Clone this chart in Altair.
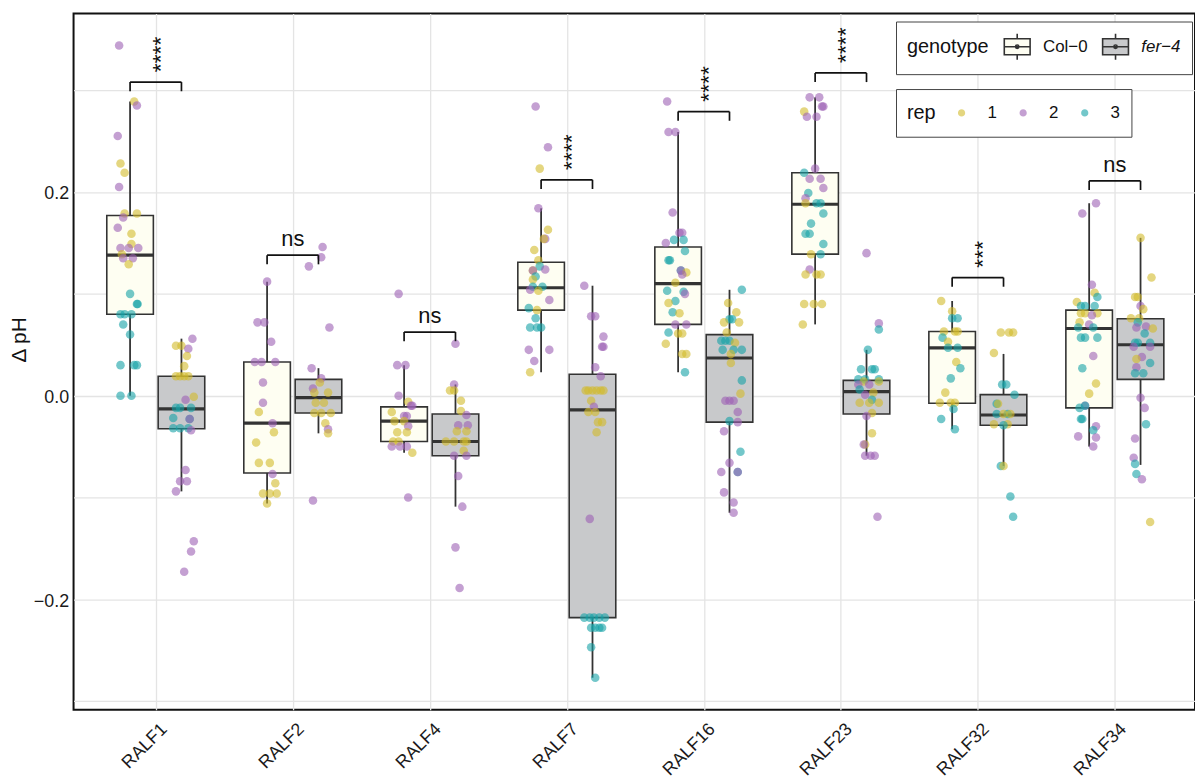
import altair as alt
import pandas as pd

CATEGORIES = ["RALF1", "RALF2", "RALF4", "RALF7", "RALF16", "RALF23", "RALF32", "RALF34"]
GENOTYPES = ["Col\u22120", "fer\u22124"]
REPS = ["1", "2", "3"]
REP_COLORS = ["#D2BA2C", "#9C60B4", "#16A1A7"]
GENO_FILLS = ["#FEFEF2", "#C8C9CB"]

# each point: (delta pH, rep, horizontal jitter in category units)
RALF1_COL = [(0.344,2,-0.08),(0.289,1,0.03),(0.285,2,0.05),(0.255,2,-0.09),(0.228,1,-0.07),(0.219,1,-0.04),
             (0.205,2,-0.08),(0.179,1,-0.04),(0.179,1,0.05),(0.175,2,-0.05),(0.165,2,-0.09),(0.159,1,0.01),
             (0.149,1,0.01),(0.145,2,-0.07),(0.145,2,-0.01),(0.145,2,0.06),(0.139,1,-0.06),(0.135,2,-0.05),
             (0.135,2,0.02),(0.129,1,-0.01),(0.100,3,0.0),(0.090,3,0.05),(0.090,3,0.055),(0.080,3,-0.07),
             (0.080,3,-0.04),(0.080,3,0.01),(0.070,3,-0.05),(0.060,3,0.0),(0.030,3,-0.07),(0.030,3,0.03),
             (0.030,3,0.05),(0.000,3,-0.07),(0.000,3,0.01)]
RALF1_FER = [(0.056,2,0.08),(0.049,1,-0.04),(0.049,1,0.0),(0.046,2,0.05),(0.039,1,0.04),(0.029,1,0.02),
             (0.019,1,-0.04),(0.019,1,-0.01),(0.019,1,0.02),(0.019,1,0.05),(-0.001,1,0.09),(-0.004,2,0.03),
             (-0.012,3,-0.04),(-0.012,3,-0.01),(-0.012,3,0.07),(-0.022,3,-0.06),(-0.023,3,0.06),(-0.023,2,0.06),
             (-0.032,3,-0.06),(-0.032,3,-0.01),(-0.032,3,0.05),(-0.034,2,0.07),(-0.073,2,0.03),(-0.084,2,-0.01),
             (-0.084,2,0.04),(-0.094,2,-0.04),(-0.143,2,0.09),(-0.153,2,0.07),(-0.173,2,0.02)]
RALF2_COL = [(0.112,2,0.0),(0.072,2,-0.07),(0.072,2,-0.02),(0.053,2,0.03),(0.033,2,-0.09),(0.033,2,-0.04),
             (0.033,2,0.06),(0.013,2,-0.03),(-0.007,2,-0.03),(-0.016,1,-0.06),(-0.027,2,0.04),(-0.036,1,0.05),
             (-0.046,1,-0.08),(-0.066,1,-0.06),(-0.066,1,0.02),(-0.077,2,0.04),(-0.086,1,0.06),(-0.096,1,-0.03),
             (-0.096,1,0.02),(-0.096,1,0.07),(-0.106,1,0.0)]
RALF2_FER = [(0.146,2,0.03),(0.136,2,0.02),(0.127,2,-0.07),(0.067,2,0.08),(0.027,2,-0.05),(0.017,2,0.02),
             (0.013,1,0.01),(0.007,2,-0.04),(0.003,1,-0.03),(0.003,1,0.07),(-0.007,1,-0.02),(-0.007,1,0.04),
             (-0.017,1,-0.03),(-0.017,1,0.02),(-0.017,1,0.09),(-0.027,1,0.05),(-0.033,2,0.07),(-0.037,1,0.07),
             (-0.103,2,-0.04)]
RALF4_COL = [(0.100,2,-0.04),(0.030,2,-0.05),(0.030,2,0.01),(0.000,2,-0.04),(-0.006,1,0.03),(-0.010,2,0.05),
             (-0.010,2,0.06),(-0.016,1,-0.09),(-0.020,2,0.0),(-0.020,2,0.02),(-0.025,1,-0.07),(-0.025,1,0.0),
             (-0.030,2,0.03),(-0.036,1,-0.05),(-0.036,1,0.02),(-0.045,1,-0.08),(-0.045,1,-0.04),(-0.050,2,-0.09),
             (-0.050,2,-0.03),(-0.050,2,0.02),(-0.056,1,0.06),(-0.100,2,0.03)]
RALF4_FER = [(0.051,2,0.0),(0.011,2,-0.01),(0.005,1,-0.04),(0.005,1,-0.01),(-0.005,1,0.04),(-0.015,1,0.04),
             (-0.019,2,0.08),(-0.029,2,0.02),(-0.029,2,0.09),(-0.035,1,0.01),(-0.035,1,0.08),(-0.045,1,-0.07),
             (-0.045,1,-0.01),(-0.045,1,0.06),(-0.045,1,0.08),(-0.054,1,0.06),(-0.059,2,-0.01),(-0.059,2,0.08),
             (-0.079,2,0.02),(-0.109,2,0.05),(-0.149,2,0.0),(-0.189,2,0.03)]
RALF7_COL = [(0.284,2,-0.04),(0.244,2,0.05),(0.223,1,-0.01),(0.184,2,-0.02),(0.163,1,0.05),(0.154,2,0.03),
             (0.154,1,0.02),(0.143,1,-0.05),(0.133,1,-0.02),(0.127,3,-0.01),(0.124,2,0.03),(0.123,1,-0.06),
             (0.123,2,-0.06),(0.117,3,-0.04),(0.114,1,-0.06),(0.107,3,-0.06),(0.107,3,0.01),(0.104,2,-0.08),
             (0.103,1,-0.02),(0.094,2,0.06),(0.086,3,-0.09),(0.084,1,-0.03),(0.076,3,-0.04),(0.067,3,-0.08),
             (0.067,3,-0.03),(0.067,3,0.0),(0.045,2,-0.09),(0.045,2,0.06),(0.034,2,-0.05),(0.023,1,-0.08)]
RALF7_FER = [(0.108,2,-0.06),(0.078,2,-0.01),(0.078,2,0.02),(0.058,2,0.08),(0.048,2,0.07),(0.048,2,0.08),
             (0.028,2,0.02),(0.019,2,0.06),(0.005,1,-0.05),(0.005,1,-0.03),(0.005,1,0.0),(0.005,1,0.03),
             (0.005,1,0.06),(0.005,1,0.08),(-0.005,1,-0.01),(-0.011,2,0.01),(-0.016,1,-0.03),(-0.016,1,0.02),
             (-0.026,1,0.04),(-0.026,1,0.07),(-0.036,1,0.03),(-0.121,2,-0.02),(-0.218,3,-0.06),(-0.218,3,-0.02),
             (-0.218,3,0.01),(-0.218,3,0.05),(-0.218,3,0.09),(-0.228,3,-0.01),(-0.228,3,0.02),(-0.228,3,0.05),
             (-0.228,3,0.07),(-0.247,3,-0.01),(-0.277,3,0.02)]
RALF16_COL = [(0.289,2,-0.08),(0.259,2,-0.07),(0.259,2,-0.02),(0.180,2,-0.04),(0.160,2,0.01),(0.160,2,0.03),
              (0.153,3,-0.03),(0.153,3,0.04),(0.150,2,-0.09),(0.142,3,0.05),(0.133,3,-0.07),(0.133,3,-0.06),
              (0.123,3,0.02),(0.123,2,0.02),(0.121,1,0.06),(0.119,2,0.03),(0.111,1,-0.02),(0.103,3,-0.08),
              (0.102,3,0.04),(0.100,2,0.05),(0.093,3,-0.02),(0.091,1,-0.07),(0.082,3,-0.04),(0.081,1,0.01),
              (0.070,2,-0.02),(0.070,2,0.06),(0.062,3,-0.07),(0.061,1,0.0),(0.061,1,0.03),(0.051,1,-0.09),
              (0.041,1,0.03),(0.041,1,0.06),(0.023,3,0.05)]
RALF16_FER = [(0.104,3,0.09),(0.091,1,-0.01),(0.082,1,0.05),(0.075,3,0.0),(0.075,3,0.02),(0.072,1,-0.04),
              (0.072,1,0.07),(0.062,1,-0.02),(0.054,3,-0.06),(0.054,3,-0.03),(0.054,3,0.0),(0.052,1,0.04),
              (0.045,3,-0.05),(0.045,3,0.03),(0.045,3,0.09),(0.041,1,0.01),(0.032,1,0.01),(0.015,3,0.09),
              (0.002,1,0.08),(-0.005,2,-0.03),(-0.005,2,0.0),(-0.005,2,0.03),(-0.016,2,0.06),(-0.025,3,0.0),
              (-0.026,2,0.06),(-0.035,2,-0.04),(-0.055,3,0.08),(-0.066,2,0.0),(-0.075,2,-0.06),(-0.075,3,0.06),
              (-0.075,2,0.06),(-0.095,2,-0.04),(-0.105,2,0.03),(-0.115,2,0.03)]
RALF23_COL = [(0.293,2,-0.04),(0.293,2,0.03),(0.284,2,0.05),(0.284,2,0.06),(0.279,1,-0.08),(0.274,2,-0.06),
              (0.274,2,0.01),(0.223,2,0.0),(0.219,3,-0.08),(0.213,2,-0.04),(0.213,2,0.04),(0.204,2,0.06),
              (0.199,3,-0.05),(0.194,2,-0.07),(0.189,1,-0.07),(0.189,3,0.01),(0.189,3,0.04),(0.179,3,0.06),
              (0.169,3,-0.03),(0.159,3,-0.07),(0.159,3,-0.04),(0.149,3,0.06),(0.139,1,-0.03),(0.139,3,0.04),
              (0.124,2,-0.04),(0.119,1,-0.07),(0.119,1,0.01),(0.119,1,0.04),(0.090,1,-0.08),(0.090,1,-0.01),
              (0.090,1,0.05),(0.070,1,-0.09)]
RALF23_FER = [(0.140,2,0.0),(0.071,2,0.09),(0.065,3,0.09),(0.045,3,0.01),(0.026,3,-0.04),(0.026,3,0.04),
              (0.026,3,0.06),(0.016,3,-0.06),(0.016,3,-0.01),(0.016,3,0.09),(0.014,1,-0.02),(0.014,1,0.09),
              (0.011,2,-0.06),(0.011,2,0.02),(0.006,3,-0.05),(0.003,1,0.05),(0.001,2,-0.01),(-0.004,3,0.04),
              (-0.007,1,-0.05),(-0.007,1,0.02),(-0.007,1,0.09),(-0.017,1,0.04),(-0.020,2,0.0),(-0.037,1,0.04),
              (-0.048,1,-0.01),(-0.048,2,-0.02),(-0.059,2,-0.01),(-0.059,2,0.03),(-0.059,2,0.06),(-0.119,2,0.08)]
RALF32_COL = [(0.093,1,-0.08),(0.083,1,0.0),(0.076,3,0.0),(0.076,3,0.04),(0.063,1,-0.06),(0.063,1,0.02),
              (0.063,1,0.04),(0.057,3,-0.07),(0.053,1,-0.03),(0.047,3,-0.03),(0.047,3,0.04),(0.033,1,0.03),
              (0.027,3,0.06),(0.017,3,-0.01),(0.003,1,-0.05),(-0.007,1,-0.09),(-0.007,1,-0.01),(-0.007,1,0.02),
              (-0.013,3,0.01),(-0.023,3,-0.08),(-0.033,3,0.02)]
RALF32_FER = [(0.062,1,-0.02),(0.062,1,0.04),(0.062,1,0.07),(0.042,1,-0.07),(0.011,3,-0.01),(0.011,3,0.02),
              (0.001,3,0.08),(-0.008,3,-0.05),(-0.008,1,-0.04),(-0.018,3,-0.05),(-0.018,3,0.03),(-0.018,1,0.0),
              (-0.018,1,0.05),(-0.028,1,-0.07),(-0.028,1,0.03),(-0.029,3,0.0),(-0.069,3,-0.02),(-0.069,1,0.0),
              (-0.099,3,0.05),(-0.119,3,0.07)]
RALF34_COL = [(0.189,2,0.05),(0.179,2,-0.05),(0.109,2,0.02),(0.101,1,0.04),(0.097,3,0.06),(0.092,1,-0.09),
              (0.088,3,-0.06),(0.088,3,-0.03),(0.088,3,0.04),(0.081,1,-0.06),(0.081,1,-0.03),(0.081,1,0.06),
              (0.079,2,0.02),(0.072,1,-0.07),(0.070,2,0.0),(0.067,3,-0.08),(0.067,3,0.03),(0.057,3,-0.06),
              (0.057,3,-0.03),(0.057,3,0.06),(0.039,2,0.03),(0.027,3,-0.05),(0.012,1,0.05),(0.002,1,0.0),
              (-0.010,2,-0.03),(-0.010,3,-0.03),(-0.012,3,-0.07),(-0.023,3,-0.06),(-0.023,3,-0.05),(-0.030,2,0.05),
              (-0.034,3,0.03),(-0.040,2,-0.08),(-0.041,2,0.05),(-0.050,2,0.03)]
RALF34_FER = [(0.155,1,0.0),(0.116,1,0.08),(0.097,1,-0.04),(0.097,1,-0.02),(0.088,2,0.0),(0.085,1,0.02),
              (0.076,1,-0.07),(0.076,1,-0.01),(0.072,3,-0.02),(0.067,2,-0.03),(0.068,2,0.04),(0.066,1,0.09),
              (0.061,3,0.03),(0.052,3,-0.04),(0.052,3,-0.02),(0.052,3,0.07),(0.048,2,-0.05),(0.048,2,0.07),
              (0.038,2,0.01),(0.036,1,-0.03),(0.032,3,0.07),(0.028,2,-0.03),(0.022,3,-0.04),(0.022,3,0.02),
              (-0.002,2,0.0),(-0.012,2,0.03),(-0.028,3,0.04),(-0.042,2,-0.04),(-0.061,2,-0.05),(-0.067,3,-0.04),
              (-0.077,3,-0.03),(-0.082,2,0.01),(-0.124,1,0.07)]

COL_GROUPS = [RALF1_COL, RALF2_COL, RALF4_COL, RALF7_COL, RALF16_COL, RALF23_COL, RALF32_COL, RALF34_COL]
FER_GROUPS = [RALF1_FER, RALF2_FER, RALF4_FER, RALF7_FER, RALF16_FER, RALF23_FER, RALF32_FER, RALF34_FER]

# box statistics
COL_LO = [0.000, -0.106, -0.056, 0.023, 0.023, 0.070, -0.033, -0.050]
COL_Q1 = [0.080, -0.076, -0.045, 0.084, 0.070, 0.139, -0.0075, -0.012]
COL_MED = [0.138, -0.027, -0.025, 0.106, 0.110, 0.188, 0.047, 0.066]
COL_Q3 = [0.177, 0.033, -0.011, 0.131, 0.146, 0.219, 0.063, 0.084]
COL_HI = [0.289, 0.112, 0.030, 0.184, 0.259, 0.293, 0.093, 0.189]
FER_LO = [-0.094, -0.037, -0.109, -0.277, -0.115, -0.059, -0.069, -0.068]
FER_Q1 = [-0.0325, -0.017, -0.059, -0.218, -0.026, -0.018, -0.029, 0.016]
FER_MED = [-0.013, -0.002, -0.045, -0.014, 0.037, 0.004, -0.019, 0.050]
FER_Q3 = [0.019, 0.016, -0.018, 0.021, 0.060, 0.015, 0.001, 0.0755]
FER_HI = [0.056, 0.027, 0.011, 0.108, 0.104, 0.045, 0.041, 0.155]

SIG_LABELS = ["****", "ns", "ns", "****", "****", "****", "***", "ns"]
SIG_Y = [0.308, 0.138, 0.0625, 0.212, 0.279, 0.317, 0.116, 0.211]

DODGE = 0.1875
HALF = 0.17
LEG = 0.009
FONT = "Liberation Sans"

# ---- build tables
pt_rows = []
for i, (cpts, fpts) in enumerate(zip(COL_GROUPS, FER_GROUPS)):
    for g, pts, off in ((GENOTYPES[0], cpts, -DODGE), (GENOTYPES[1], fpts, DODGE)):
        for v, r, j in pts:
            pt_rows.append({"cat": CATEGORIES[i], "genotype": g, "rep": str(r), "dph": v,
                            "xpos": i + 1 + off + j})
points = pd.DataFrame(pt_rows)

box_rows = []
for i in range(len(CATEGORIES)):
    for g, off, lo, q1, md, q3, hi in (
        (GENOTYPES[0], -DODGE, COL_LO[i], COL_Q1[i], COL_MED[i], COL_Q3[i], COL_HI[i]),
        (GENOTYPES[1], DODGE, FER_LO[i], FER_Q1[i], FER_MED[i], FER_Q3[i], FER_HI[i]),
    ):
        c = i + 1 + off
        box_rows.append({"cat": CATEGORIES[i], "genotype": g, "center": c, "left": c - HALF,
                         "right": c + HALF, "lo": lo, "q1": q1, "med": md, "q3": q3, "hi": hi})
boxes = pd.DataFrame(box_rows)

sig = pd.DataFrame({
    "idx": list(range(1, len(CATEGORIES) + 1)),
    "label": SIG_LABELS,
    "y": SIG_Y,
})
sig["left"] = sig["idx"] - DODGE
sig["right"] = sig["idx"] + DODGE
sig["ylow"] = sig["y"] - LEG

# ---- scales and axes
x_scale = alt.Scale(domain=[0.4, 8.585], nice=False, zero=False)
y_scale = alt.Scale(domain=[-0.3086, 0.3753], nice=False, zero=False)

label_list = "[" + ",".join("'%s'" % c for c in CATEGORIES) + "]"
x_axis = alt.Axis(values=list(range(1, len(CATEGORIES) + 1)), labelExpr=label_list + "[datum.value - 1]",
                  grid=True, ticks=False, domain=False, labelAngle=-45, labelAlign="right",
                  labelBaseline="top", labelPadding=10, labelOffset=2, labelFontSize=18,
                  labelColor="#1a1a1a", gridColor="#E4E4E4", gridWidth=1.3, title=None)
y_axis = alt.Axis(values=[-0.3, -0.2, -0.1, 0.0, 0.1, 0.2, 0.3],
                  labelExpr="round(datum.value*10) % 2 == 0 ? replace(format(datum.value, '.1f'), '-', '\u2212') : ''",
                  grid=True, ticks=False, domain=False, labelPadding=5, labelOffset=2, labelFontSize=18,
                  labelColor="#1a1a1a", gridColor="#E4E4E4", gridWidth=1.3,
                  title="\u0394 pH", titleFontSize=21, titleFontWeight="normal", titleColor="#111",
                  titleX=-54, titleY=328, titleBaseline="middle", titleAlign="center")

def X(field):
    return alt.X(field + ":Q", scale=x_scale, axis=x_axis)

def Y(field):
    return alt.Y(field + ":Q", scale=y_scale, axis=y_axis)

BOX_PATH = ("M-1,-0.62L1,-0.62L1,0.62L-1,0.62Z M0,-1L0,-0.62 M0,0.62L0,1 M-1,0L1,0 "
            "M-0.13,0A0.13,0.13 0 1,0 0.13,0A0.13,0.13 0 1,0 -0.13,0Z")
DOT_PATH = ("M-1,-1L-1,-1 M1,1L1,1 "
            "M-0.28,0A0.28,0.28 0 1,0 0.28,0A0.28,0.28 0 1,0 -0.28,0Z")

geno_legend = alt.Legend(
    orient="none", legendX=828, legendY=8, direction="horizontal", title="genotype",
    titleOrient="left", titleAnchor="middle", titleBaseline="middle", titleFontSize=20,
    titleFontWeight="normal", titleColor="#111", titlePadding=14,
    labelFontSize=17, labelColor="#111", labelOffset=12, columnPadding=11,
    labelFontStyle=alt.ExprRef("datum.value == 'fer\u22124' ? 'italic' : 'normal'"),
    symbolType=BOX_PATH, symbolSize=676, symbolStrokeColor="#333", symbolStrokeWidth=1.6,
    strokeColor="#444", fillColor="white", padding=11, cornerRadius=0,
)
rep_legend = alt.Legend(
    orient="none", legendX=828, legendY=76, direction="horizontal", title="rep",
    titleOrient="left", titleAnchor="middle", titleBaseline="middle", titleFontSize=20,
    titleFontWeight="normal", titleColor="#111", titlePadding=13,
    labelFontSize=17, labelColor="#111", labelOffset=13, columnPadding=13,
    symbolType=DOT_PATH, symbolSize=676, symbolStrokeWidth=0, symbolOpacity=0.6,
    strokeColor="#444", fillColor="white", padding=11, cornerRadius=0,
)

box_base = alt.Chart(boxes)

rects = box_base.mark_rect(stroke="#333", strokeWidth=1.6).encode(
    x=X("left"), x2="right", y=Y("q1"), y2="q3",
    fill=alt.Fill("genotype:N", scale=alt.Scale(domain=GENOTYPES, range=GENO_FILLS), legend=geno_legend),
)
whisk_hi = box_base.mark_rule(color="#333", strokeWidth=1.8).encode(x=X("center"), y=Y("q3"), y2="hi")
whisk_lo = box_base.mark_rule(color="#333", strokeWidth=1.8).encode(x=X("center"), y=Y("q1"), y2="lo")
medians = box_base.mark_rule(color="#333", strokeWidth=3.2).encode(x=X("left"), x2="right", y=Y("med"))

dots = alt.Chart(points).mark_circle(size=74, opacity=0.6).encode(
    x=X("xpos"), y=Y("dph"),
    color=alt.Color("rep:N", scale=alt.Scale(domain=REPS, range=REP_COLORS), legend=rep_legend),
)

sig_base = alt.Chart(sig)
br_h = sig_base.mark_rule(color="#111", strokeWidth=1.7).encode(x=X("left"), x2="right", y=Y("y"))
br_l = sig_base.mark_rule(color="#111", strokeWidth=1.7).encode(x=X("left"), y=Y("y"), y2="ylow")
br_r = sig_base.mark_rule(color="#111", strokeWidth=1.7).encode(x=X("right"), y=Y("y"), y2="ylow")
# rotated labels: dx runs along the text (upwards), dy across it
stars = sig_base.transform_filter("datum.label != 'ns'").mark_text(
    angle=270, align="left", baseline="middle", dx=10, dy=5, fontSize=23, font=FONT, color="#111"
).encode(x=X("idx"), y=Y("y"), text="label:N")
ns = sig_base.transform_filter("datum.label == 'ns'").mark_text(
    align="center", baseline="alphabetic", dy=-9, fontSize=22, font=FONT, color="#111"
).encode(x=X("idx"), y=Y("y"), text="label:N")

chart = alt.layer(rects, whisk_hi, whisk_lo, medians, dots, br_h, br_l, br_r, stars, ns).resolve_scale(
    x="shared", y="shared"
).properties(
    width=1129, height=701,
    autosize=alt.AutoSizeParams(type="none"),
    padding={"left": 66, "top": 3, "right": 0, "bottom": 67},
).configure(font=FONT).configure_view(stroke="#111", strokeWidth=2)

chart.save("out.html", embed_options={"renderer": "svg", "actions": False})
